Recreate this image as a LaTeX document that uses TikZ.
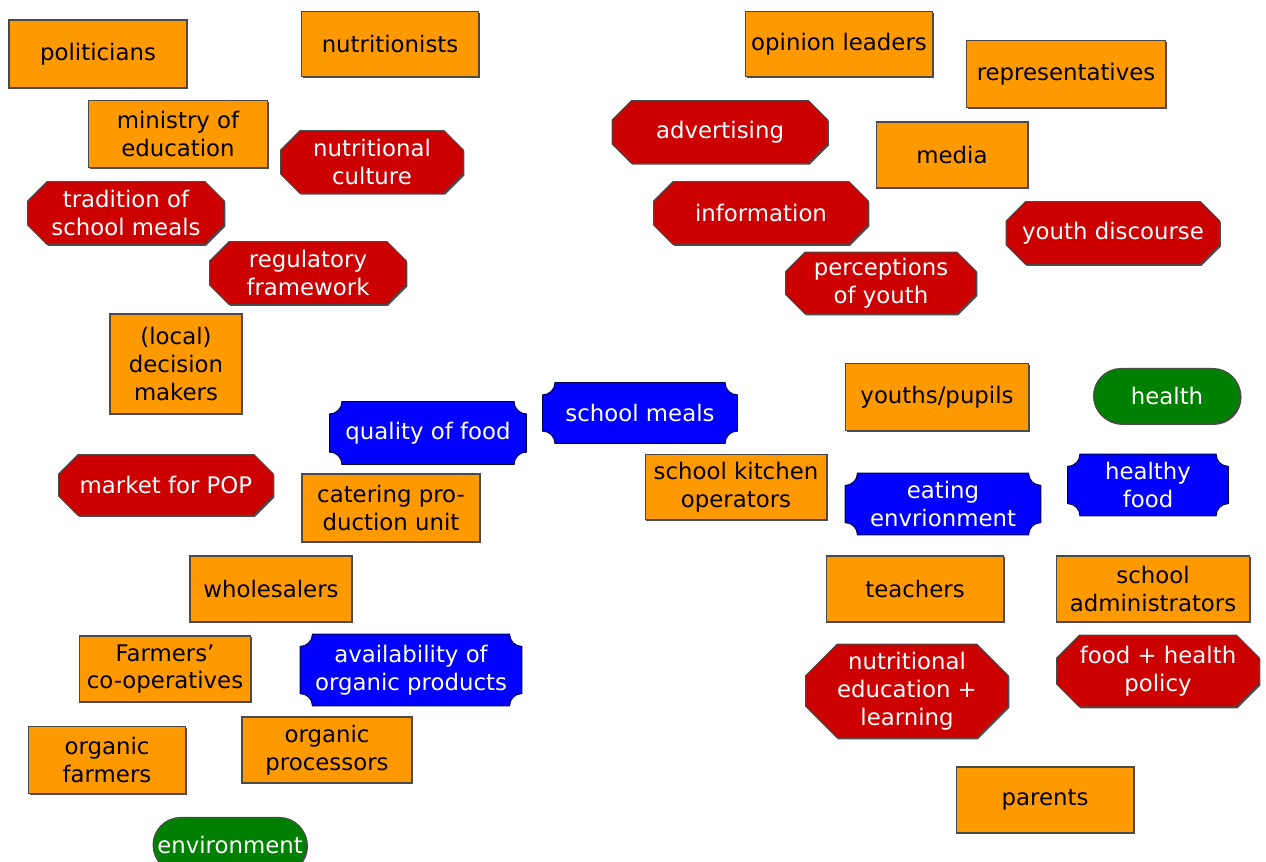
\documentclass[tikz,border=0pt]{standalone}
\usepackage{fontspec}
\setmainfont{DejaVu Sans}
\usetikzlibrary{shapes.misc,shadows,calc,backgrounds}
\definecolor{actorfill}{HTML}{FF9900}
\definecolor{factorfill}{HTML}{CC0000}
\definecolor{themefill}{HTML}{0000FF}
\definecolor{valuefill}{HTML}{008000}
\definecolor{edgegray}{HTML}{4A4A4A}

\begin{document}
\begin{tikzpicture}[
  x=0.02cm,y=-0.02cm,
  every node/.style={font=\fontsize{13pt}{15.8pt}\selectfont,align=center,inner sep=2pt},
  shade/.style={drop shadow={shadow xshift=0.6pt,shadow yshift=-0.8pt,fill=black!70,opacity=1}},
  actor/.style={draw=edgegray,line width=0.6pt,fill=actorfill,text=black,shade},
  factor/.style={text=white},
  theme/.style={text=white},
  value/.style={rounded rectangle,rounded rectangle arc length=180,draw=edgegray,line width=0.6pt,
    fill=valuefill,text=white,shade}
]
\useasboundingbox (0,0) rectangle (1266,861);

% actors
\node[actor,minimum width=3.56cm,minimum height=1.36cm] (polit) at (98,54) {politicians};
\node[actor,minimum width=3.54cm,minimum height=1.30cm] (nutrit) at (390,44) {nutritionists};
\node[actor,minimum width=3.58cm,minimum height=1.34cm] (minedu) at (178,134) {ministry of\\education};
\node[actor,minimum width=2.64cm,minimum height=2.00cm] (localdm) at (176,364) {(local)\\decision\\makers};
\node[actor,minimum width=3.56cm,minimum height=1.36cm] (catering) at (391,508) {catering pro-\\duction unit};
\node[actor,minimum width=3.24cm,minimum height=1.32cm] (whole) at (271,589) {wholesalers};
\node[actor,minimum width=3.42cm,minimum height=1.32cm] (coops) at (165,669) {Farmers'\\co-operatives};
\node[actor,minimum width=3.14cm,minimum height=1.34cm] (orgfarm) at (107,760) {organic\\farmers};
\node[actor,minimum width=3.40cm,minimum height=1.32cm] (orgproc) at (327,750) {organic\\processors};
\node[actor,minimum width=3.74cm,minimum height=1.30cm] (opinion) at (839,44) {opinion leaders};
\node[actor,minimum width=3.98cm,minimum height=1.34cm] (repr) at (1066,74) {representatives};
\node[actor,minimum width=3.04cm,minimum height=1.32cm] (media) at (952,155) {media};
\node[actor,minimum width=3.66cm,minimum height=1.34cm] (youths) at (937,397) {youths/pupils};
\node[actor,minimum width=3.64cm,minimum height=1.30cm] (kitchen) at (736,487) {school kitchen\\operators};
\node[actor,minimum width=3.54cm,minimum height=1.32cm] (teach) at (915,589) {teachers};
\node[actor,minimum width=3.86cm,minimum height=1.32cm] (admin) at (1153,589) {school\\administrators};
\node[actor,minimum width=3.56cm,minimum height=1.32cm] (parents) at (1045,800) {parents};

% factors
\node[factor,minimum width=3.64cm,minimum height=1.24cm] (nutcult) at (372,162) {nutritional\\culture};
\node[factor,minimum width=3.92cm,minimum height=1.24cm] (tradit) at (126,213) {tradition of\\school meals};
\node[factor,minimum width=3.92cm,minimum height=1.24cm] (regul) at (308,273) {regulatory\\framework};
\node[factor,minimum width=4.28cm,minimum height=1.20cm] (market) at (166,485) {market for POP};
\node[factor,minimum width=4.30cm,minimum height=1.24cm] (advert) at (720,132) {advertising};
\node[factor,minimum width=4.28cm,minimum height=1.24cm] (inform) at (761,213) {information};
\node[factor,minimum width=4.26cm,minimum height=1.24cm] (ydisc) at (1113,233) {youth discourse};
\node[factor,minimum width=3.80cm,minimum height=1.22cm] (percep) at (881,283) {perceptions\\of youth};
\node[factor,minimum width=4.04cm,minimum height=1.86cm] (nutedu) at (907,691) {nutritional\\education +\\learning};
\node[factor,minimum width=4.04cm,minimum height=1.42cm] (policy) at (1158,671) {food + health\\policy};

% themes
\node[theme,minimum width=3.92cm,minimum height=1.24cm] (quality) at (428,433) {quality of food};
\node[theme,minimum width=3.88cm,minimum height=1.20cm] (meals) at (640,413) {school meals};
\node[theme,minimum width=3.90cm,minimum height=1.22cm] (eatenv) at (943,504) {eating\\envrionment};
\node[theme,minimum width=3.20cm,minimum height=1.22cm] (hfood) at (1148,485) {healthy\\food};
\node[theme,minimum width=4.42cm,minimum height=1.42cm] (avail) at (411,670) {availability of\\organic products};

% values
\node[value,minimum width=3.08cm,minimum height=1.10cm] (health) at (1167,396) {health};
\node[value,minimum width=3.22cm,minimum height=1.10cm] (environ) at (230,845) {environment};

\begin{scope}[on background layer]
\foreach \b/\cut in {nutcult/11pt,tradit/11pt,regul/11pt,market/11pt,advert/11pt,inform/11pt,
    ydisc/11pt,percep/11pt,nutedu/18pt,policy/13pt}
  \path let \p1=(\b.south west), \p2=(\b.north east) in
    [fill=factorfill,draw=edgegray,line width=0.6pt,shade]
    (\x1+\cut,\y2) -- (\x2-\cut,\y2) -- (\x2,\y2-\cut) -- (\x2,\y1+\cut)
    -- (\x2-\cut,\y1) -- (\x1+\cut,\y1) -- (\x1,\y1+\cut) -- (\x1,\y2-\cut) -- cycle;
\foreach \b in {quality,meals,eatenv,hfood,avail}
  \path let \p1=(\b.south west), \p2=(\b.north east) in
    [fill=themefill,draw=black!70!blue,line width=0.6pt]
    (\x1+7pt,\y2) -- (\x2-7pt,\y2) arc[start angle=180,end angle=270,radius=7pt]
    -- (\x2,\y1+7pt) arc[start angle=90,end angle=180,radius=7pt]
    -- (\x1+7pt,\y1) arc[start angle=0,end angle=90,radius=7pt]
    -- (\x1,\y2-7pt) arc[start angle=270,end angle=360,radius=7pt] -- cycle;
\end{scope}
\end{tikzpicture}
\end{document}
